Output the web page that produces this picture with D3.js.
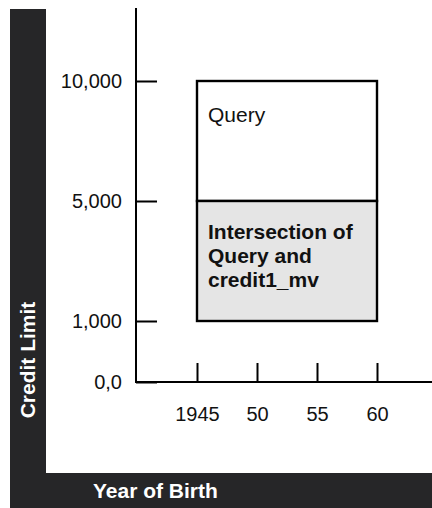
<!DOCTYPE html>
<html>
<head>
<meta charset="utf-8">
<script src="https://cdn.jsdelivr.net/npm/d3@7"></script>
<style>
  html, body { margin: 0; padding: 0; background: #fff; }
  svg { display: block; font-family: "Liberation Sans", Arial, Helvetica, sans-serif; }
  .axis text { font-size: 20px; fill: #111; }
</style>
</head>
<body>
<div id="chart"></div>
<script>
/* ── DATA ── */
const yTicks      = [0, 1000, 5000, 10000];
const yTickLabels = ['0,0', '1,000', '5,000', '10,000'];
const xTicks      = [1945, 1950, 1955, 1960];
const xTickLabels = ['1945', '50', '55', '60'];

// regions: birth years x credit limit
const regionNames = ['Query', 'Intersection'];
const regionX0    = [1945, 1945];
const regionX1    = [1960, 1960];
const regionY0    = [5000, 1000];
const regionY1    = [10000, 5000];
const regionText  = [['Query'], ['Intersection of', 'Query and', 'credit1_mv']];

/* ── LAYOUT ── */
const W = 432, H = 508;
const DARK = '#262628';

const svg = d3.select('#chart').append('svg').attr('width', W).attr('height', H);

// dark title bands (left + bottom)
svg.append('rect').attr('x', 10).attr('y', 9).attr('width', 36).attr('height', H - 9).attr('fill', DARK);
svg.append('rect').attr('x', 10).attr('y', 473).attr('width', W - 10).attr('height', H - 473).attr('fill', DARK);

// scales (y is piecewise, the original spacing isn't linear)
const y = d3.scaleLinear().domain(yTicks).range([382, 321, 201, 81]);
const x = d3.scaleLinear().domain([1945, 1960]).range([197, 377]);

const axisX0 = 136, axisTop = 8;

/* ── REGIONS ── */
const regions = regionNames.map((n, i) => ({
  name: n, x0: regionX0[i], x1: regionX1[i], y0: regionY0[i], y1: regionY1[i], text: regionText[i]
}));

svg.selectAll('.region').data(regions).enter().append('rect')
  .attr('class', 'region')
  .attr('x', d => x(d.x0)).attr('y', d => y(d.y1))
  .attr('width', d => x(d.x1) - x(d.x0))
  .attr('height', d => y(d.y0) - y(d.y1))
  .attr('fill', (d, i) => i === 0 ? '#fff' : '#e5e5e5')
  .attr('stroke', '#000').attr('stroke-width', 2.4);

regions.forEach((d, i) => {
  const t = svg.append('text')
    .attr('x', x(d.x0) + 11)
    .attr('y', y(d.y1) + (i === 0 ? 41 : 38))
    .attr('font-size', 21)
    .attr('font-weight', i === 0 ? 'normal' : 'bold')
    .attr('fill', '#111');
  d.text.forEach((line, j) => {
    t.append('tspan').attr('x', x(d.x0) + 11).attr('dy', j === 0 ? 0 : 24).text(line);
  });
});

/* ── AXES ── */
const gy = svg.append('g').attr('class', 'axis').attr('transform', `translate(${axisX0},0)`)
  .call(d3.axisLeft(y).tickValues(yTicks).tickSizeInner(-21).tickSizeOuter(0).tickPadding(14)
    .tickFormat((d, i) => yTickLabels[i]));
gy.select('.domain').remove();
gy.selectAll('line').attr('stroke', '#000').attr('stroke-width', 2);

const gx = svg.append('g').attr('class', 'axis').attr('transform', `translate(0,${y(0)})`)
  .call(d3.axisBottom(x).tickValues(xTicks).tickSizeInner(-19).tickSizeOuter(0).tickPadding(25)
    .tickFormat((d, i) => xTickLabels[i]));
gx.select('.domain').remove();
gx.selectAll('line').attr('stroke', '#000').attr('stroke-width', 2);
svg.selectAll('.axis text').attr('font-family', null).attr('font-size', null);

// axis lines
svg.append('line').attr('x1', axisX0).attr('x2', axisX0).attr('y1', axisTop).attr('y2', y(0) + 1)
  .attr('stroke', '#000').attr('stroke-width', 2);
svg.append('line').attr('x1', axisX0).attr('x2', W).attr('y1', y(0)).attr('y2', y(0))
  .attr('stroke', '#000').attr('stroke-width', 2);

/* ── TITLES ── */
svg.append('text')
  .attr('transform', 'translate(35,360) rotate(-90)')
  .attr('text-anchor', 'middle')
  .attr('font-size', 21).attr('font-weight', 'bold').attr('fill', '#fff')
  .text('Credit Limit');

svg.append('text')
  .attr('x', 93).attr('y', 498)
  .attr('font-size', 21).attr('font-weight', 'bold').attr('fill', '#fff')
  .text('Year of Birth');
</script>
</body>
</html>
